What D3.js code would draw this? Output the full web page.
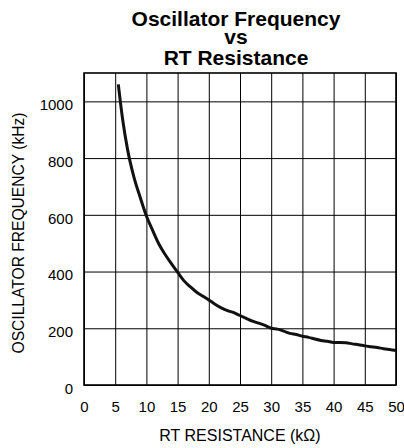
<!DOCTYPE html>
<html>
<head>
<meta charset="utf-8">
<script src="https://cdn.jsdelivr.net/npm/d3@7"></script>
<style>
  body { margin: 0; background: #fff; }
  svg { display: block; }
  text { font-family: "Liberation Sans", Arial, sans-serif; fill: #000; }
  .grid line { stroke: #000; stroke-width: 1; }
  .grid .domain { display: none; }
  .tick text { font-size: 15px; }
</style>
</head>
<body>
<svg id="chart"></svg>
<script>
// Curve: RT resistance (kOhm) vs oscillator frequency (kHz)
const resistance = [5.5, 6.2, 7, 8, 9, 10, 11, 12, 13, 14, 15, 16, 17, 18, 19, 20,
  21, 22, 23, 24, 25, 26, 27, 28, 29, 30, 31, 32, 33, 34, 35, 36, 37, 38, 39, 40,
  41, 42, 43, 44, 45, 46, 47, 48, 49, 50];
const frequency = [1060, 935, 828, 733, 662, 596, 545, 497, 460, 428, 398, 368, 347, 328, 314, 300,
  285, 272, 262, 255, 245, 235, 225, 218, 210, 200, 197, 190, 182, 178, 172, 168, 162, 157, 154, 150,
  150, 149, 145, 142, 138, 135, 132, 128, 125, 122];
const xTicks = [0, 5, 10, 15, 20, 25, 30, 35, 40, 45, 50];
const yTicks = [0, 200, 400, 600, 800, 1000];
const titleLines = ["Oscillator Frequency", "vs", "RT Resistance"];

const width = 404, height = 448;
const margin = {top: 73, right: 8, bottom: 63, left: 84};
const w = width - margin.left - margin.right;
const h = height - margin.top - margin.bottom;

const svg = d3.select('#chart')
    .attr('width', width)
    .attr('height', height);

const g = svg.append('g')
    .attr('transform', `translate(${margin.left},${margin.top})`);

const x = d3.scaleLinear().domain([0, 50]).range([0, w]);
const y = d3.scaleLinear().domain([0, 1100]).range([h, 0]);

// Grid + tick labels
g.append('g')
    .attr('class', 'grid')
    .attr('transform', `translate(0,${h})`)
    .call(d3.axisBottom(x).tickValues(xTicks).tickSize(-h).tickPadding(0).tickFormat(d3.format('d')))
    .selectAll('text')
    .attr('dy', null)
    .attr('y', 26.5);

g.append('g')
    .attr('class', 'grid')
    .call(d3.axisLeft(y).tickValues(yTicks).tickSize(-w).tickPadding(11).tickFormat(d3.format('d')))
    .selectAll('text')
    .attr('dy', '0.55em');

// Plot border
g.append('rect')
    .attr('width', w)
    .attr('height', h)
    .attr('fill', 'none')
    .attr('stroke', '#000')
    .attr('stroke-width', 1.6);

// Curve
const pts = resistance.map((r, i) => [r, frequency[i]]);
g.append('path')
    .datum(pts)
    .attr('fill', 'none')
    .attr('stroke', '#111')
    .attr('stroke-width', 3)
    .attr('stroke-linejoin', 'round')
    .attr('d', d3.line().x(d => x(d[0])).y(d => y(d[1])).curve(d3.curveMonotoneX));

// Title
const titleY = [26, 44, 64.5];
svg.append('g').selectAll('text')
    .data(titleLines)
    .join('text')
    .attr('x', 236)
    .attr('y', (d, i) => titleY[i])
    .attr('text-anchor', 'middle')
    .attr('font-size', 21)
    .attr('font-weight', 'bold')
    .text(d => d);

// Axis titles
svg.append('text')
    .attr('x', margin.left + w / 2)
    .attr('y', 441)
    .attr('text-anchor', 'middle')
    .attr('font-size', 16)
    .text('RT RESISTANCE (k\u03A9)');

svg.append('text')
    .attr('transform', `translate(23.5,${margin.top + h / 2 + 4}) rotate(-90)`)
    .attr('text-anchor', 'middle')
    .attr('font-size', 15.6)
    .text('OSCILLATOR FREQUENCY (kHz)');
</script>
</body>
</html>
